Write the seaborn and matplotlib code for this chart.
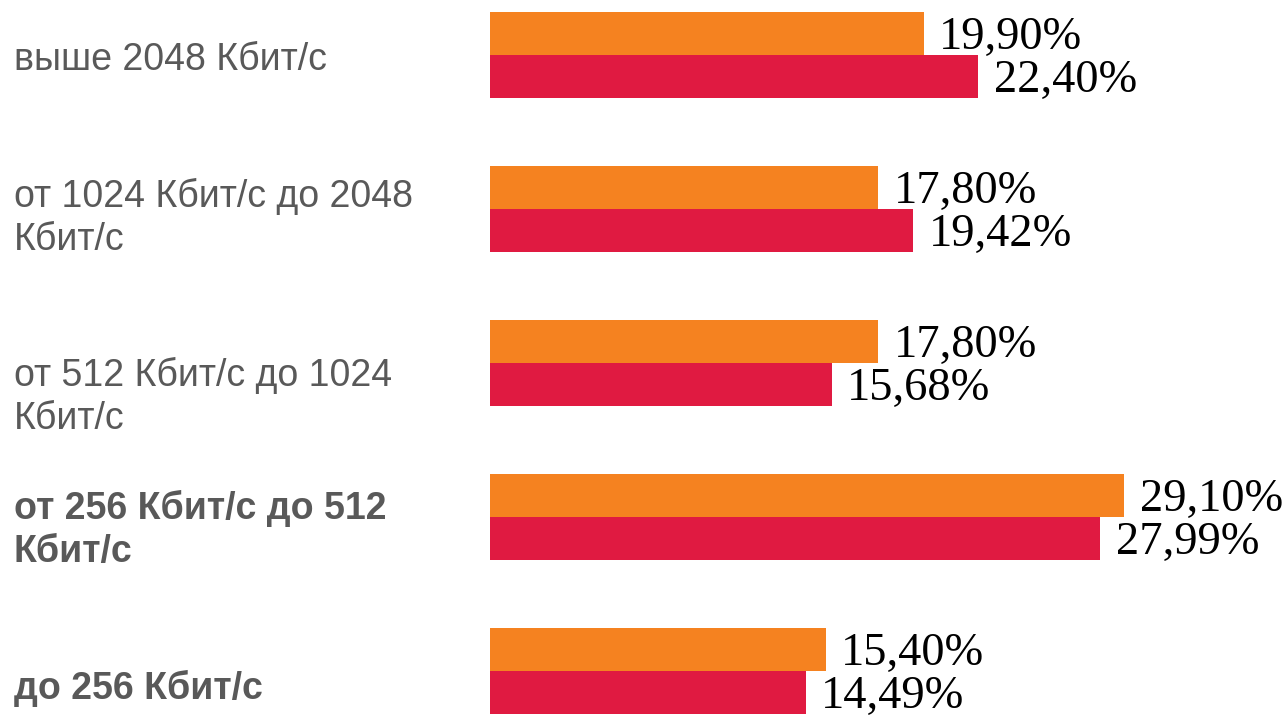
import matplotlib.pyplot as plt
import matplotlib.transforms as mtransforms
import seaborn as sns
import pandas as pd

# speed bands, top to bottom
categories = ['выше 2048 Кбит/с',
              'от 1024 Кбит/с до 2048\nКбит/с',
              'от 512 Кбит/с до 1024\nКбит/с',
              'от 256 Кбит/с до 512\nКбит/с',
              'до 256 Кбит/с']
series_names = ['Ряд 1', 'Ряд 2']
orange_values = [19.90, 17.80, 17.80, 29.10, 15.40]
red_values = [22.40, 19.42, 15.68, 27.99, 14.49]

colors = ['#F58220', '#E01A41']
label_bold = [False, False, False, True, True]
label_offset_px = [5, 9, 34, 13, 17]

df = pd.DataFrame({
    'band': categories * 2,
    'series': [series_names[0]] * 5 + [series_names[1]] * 5,
    'value': orange_values + red_values,
})

sns.set_style('white')
plt.rcParams['font.family'] = ['Liberation Sans', 'DejaVu Sans']

fig = plt.figure(figsize=(12.88, 7.16), dpi=100)
ax = fig.add_axes([490 / 1288, 0, 1 - 490 / 1288, 1])

sns.barplot(data=df, x='value', y='band', hue='series', orient='h',
            palette=colors, width=0.56, gap=0, saturation=1,
            linewidth=0, legend=False, ax=ax)

ax.set_xlim(0, 36.6)
ax.set_ylim(4.292, -0.357)
ax.set_xlabel('')
ax.set_ylabel('')
ax.set_xticks([])
ax.set_yticks([])
sns.despine(ax=ax, left=True, bottom=True)

for cont in ax.containers:
    labels = ax.bar_label(cont, labels=[f'{v:.2f}'.replace('.', ',') + '%' for v in cont.datavalues],
                          padding=11, fontsize=33.5, family='Liberation Serif', color='black')
    for t in labels:
        t.set_y(-3)

trans = mtransforms.blended_transform_factory(fig.transFigure, ax.transData)
for i, cat in enumerate(categories):
    ax.text(14 / 1288, i + label_offset_px[i] / 154, cat, transform=trans,
            ha='left', va='center', fontsize=27, color='#595959',
            fontweight='bold' if label_bold[i] else 'normal',
            linespacing=1.25, clip_on=False)

plt.savefig('out.png', dpi=100)
